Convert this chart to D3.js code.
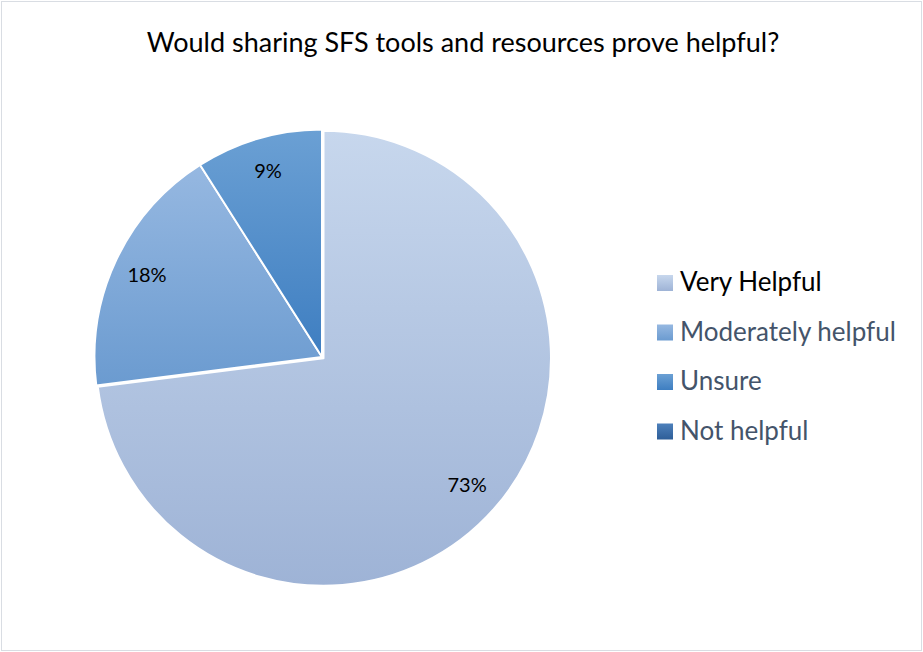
<!DOCTYPE html>
<html>
<head>
<meta charset="utf-8">
<script src="https://cdn.jsdelivr.net/npm/d3@7"></script>
<style>
  html, body { margin: 0; padding: 0; background: #fff; }
  svg { display: block; }
  text { font-family: Lato, "Liberation Sans", sans-serif; }
</style>
</head>
<body>
<svg id="chart" width="923" height="652"></svg>
<script>
// Survey responses
const title = "Would sharing SFS tools and resources prove helpful?";
const categories = ["Very Helpful", "Moderately helpful", "Unsure", "Not helpful"];
const percents = [73, 18, 9, 0];
const labels = ["73%", "18%", "9%", ""];

// Fill gradients per category (top colour, bottom colour)
const sliceTop = ["#c7d7ed", "#96b8e1", "#6ba0d4", "#4d80bb"];
const sliceBottom = ["#9eb3d6", "#6b9bd0", "#3e7ec1", "#2e5e98"];
const legendTextColor = ["#000000", "#44546a", "#44546a", "#44546a"];

const W = 923, H = 652;
const cx = 322, cy = 357, R = 227.5;

const svg = d3.select("#chart");
const defs = svg.append("defs");

categories.forEach((c, i) => {
  const g = defs.append("linearGradient")
    .attr("id", "grad" + i)
    .attr("x1", 0).attr("y1", 0).attr("x2", 0).attr("y2", 1);
  g.append("stop").attr("offset", "0%").attr("stop-color", sliceTop[i]);
  g.append("stop").attr("offset", "100%").attr("stop-color", sliceBottom[i]);
});

// Chart frame
svg.append("rect")
  .attr("x", 1.5).attr("y", 1.5)
  .attr("width", W - 3).attr("height", H - 3)
  .attr("fill", "#fff")
  .attr("stroke", "#d9dde3")
  .attr("stroke-width", 1);

// Title
svg.append("text")
  .attr("x", 463).attr("y", 52)
  .attr("text-anchor", "middle")
  .attr("font-size", 27)
  .attr("fill", "#000")
  .text(title);

// Pie
const pie = d3.pie().sort(null).value(d => d)
  .startAngle(0).endAngle(2 * Math.PI);
const arcs = pie(percents);

const arc = d3.arc().innerRadius(0).outerRadius(R);
const labelArc = d3.arc().innerRadius(R * 0.85).outerRadius(R * 0.85);

const pieG = svg.append("g").attr("transform", `translate(${cx},${cy})`);

pieG.selectAll("path.slice")
  .data(arcs.filter(d => d.value > 0))
  .join("path")
  .attr("class", "slice")
  .attr("transform", d => {
    // first slice pulled out slightly
    if (d.index !== 0) return null;
    const m = (d.startAngle + d.endAngle) / 2;
    const off = 2;
    return `translate(${off * Math.sin(m)},${-off * Math.cos(m)})`;
  })
  .attr("d", arc)
  .attr("fill", d => `url(#grad${d.index})`)
  .attr("stroke", "#fff")
  .attr("stroke-width", 2)
  .attr("stroke-linejoin", "round");

pieG.selectAll("text.lbl")
  .data(arcs.filter(d => d.value > 0))
  .join("text")
  .attr("class", "lbl")
  .attr("transform", d => `translate(${labelArc.centroid(d)})`)
  .attr("text-anchor", "middle")
  .attr("dy", "0.35em")
  .attr("font-size", 20)
  .attr("fill", "#000")
  .text(d => labels[d.index]);

// Legend
const legend = svg.append("g").attr("transform", "translate(657,275)");
const rowStep = 49.5;
const items = legend.selectAll("g.item")
  .data(categories)
  .join("g")
  .attr("class", "item")
  .attr("transform", (d, i) => `translate(0,${i * rowStep})`);

items.append("rect")
  .attr("width", 16).attr("height", 16)
  .attr("fill", (d, i) => `url(#grad${i})`);

items.append("text")
  .attr("x", 23).attr("y", 16)
  .attr("font-size", 26)
  .attr("fill", (d, i) => legendTextColor[i])
  .text(d => d);
</script>
</body>
</html>
